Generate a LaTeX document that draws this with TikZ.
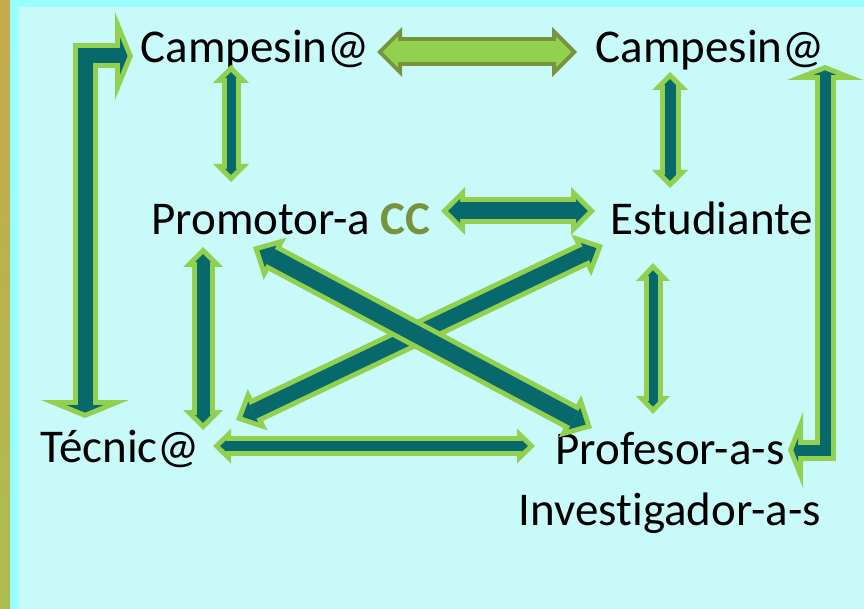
\documentclass[tikz,border=0pt]{standalone}
\usepackage{fontspec}
\setmainfont{Carlito}[Ligatures=NoCommon]
\usetikzlibrary{arrows.meta, calc}
\definecolor{dteal}{HTML}{07696B}
\definecolor{lgreen}{HTML}{92D050}
\definecolor{olivegr}{HTML}{77933C}
\definecolor{bgcyan}{HTML}{C9FAFA}
\definecolor{edgecyan}{HTML}{99FFFF}
\tikzset{
    lbl/.style={
           font=\fontsize{47}{61}\selectfont,
           inner sep=0pt,
           anchor=base,
           align=center,
           },
}
% block arrow: path, shaft, head width, head length, border, outer colour, inner colour
\newcommand{\blkarrow}[7]{%
  \pgfmathsetmacro{\tipin}{#5/sin(atan(#3/2/#4))}
  \pgfmathsetmacro{\innerlen}{#4-#5-\tipin}
  \pgfmathsetmacro{\innerwid}{#3*\innerlen/#4}
  \pgfmathsetmacro{\innershaft}{#2-2*#5}
  \draw[#6, line width=#2pt, line join=miter,
        {Triangle[width=#3pt,length=#4pt,line width'=0pt]}-{Triangle[width=#3pt,length=#4pt,line width'=0pt]}] #1;
  \draw[#7, line width=\innershaft pt, line join=miter, shorten <=\tipin pt, shorten >=\tipin pt,
        {Triangle[width=\innerwid pt,length=\innerlen pt,line width'=0pt]}-{Triangle[width=\innerwid pt,length=\innerlen pt,line width'=0pt]}] #1;
}

\begin{document}
\begin{tikzpicture}[x=1pt, y=-1pt]
  % background
  \fill[bgcyan] (0,0) rectangle (864,609);
  \fill[edgecyan] (10,0) rectangle (19,609);
  \fill[edgecyan] (10,0) rectangle (864,7);
  \shade[top color={rgb,255:red,198;green,170;blue,80}, bottom color={rgb,255:red,172;green,188;blue,82}] (0,0) rectangle (10,609);
  \useasboundingbox (0,0) rectangle (864,609);

  \node[lbl] (campL) at (255,63)  {Campesin@};
  \node[lbl] (campR) at (710,63)  {Campesin@};
  \node[lbl] (prom)  at (291,235) {Promotor-a \textcolor{olivegr}{\textbf{CC}}};
  \node[lbl] (estu)  at (712,235) {Estudiante};
  \node[lbl] (tecn)  at (120,462) {Técnic@};
  \node[lbl] (prof)  at (670,525) {Profesor-a-s\\Investigador-a-s};

  % arrow ends
  \coordinate (a1) at ($(campL.base)+(122,-11)$);
  \coordinate (a2) at ($(campR.base)+(-133,-11)$);
  \coordinate (b1) at ($(campL.base)+(-24,2)$);
  \coordinate (b2) at ($(prom.base)+(-60,-53)$);
  \coordinate (c1) at ($(campR.base)+(-40,9)$);
  \coordinate (c2) at ($(estu.base)+(-42,-47)$);
  \coordinate (d1) at ($(prom.base)+(150,-24)$);
  \coordinate (d2) at ($(estu.base)+(-117,-24)$);
  \coordinate (e1) at ($(prom.base)+(-88,12)$);
  \coordinate (e2) at ($(tecn.base)+(83,-32)$);
  \coordinate (f1) at ($(estu.base)+(-59,28)$);
  \coordinate (f2) at ($(prof.base)+(-17,-111)$);
  \coordinate (g1) at ($(tecn.base)+(93,-16)$);
  \coordinate (g2) at ($(prof.base)+(-135,-79)$);
  \coordinate (h1) at ($(prom.base)+(-38,12)$);
  \coordinate (h2) at ($(prof.base)+(-78,-97)$);
  \coordinate (i1) at ($(tecn.base)+(116,-42)$);
  \coordinate (i2) at ($(estu.base)+(-109,10)$);
  \coordinate (j1) at ($(campL.base)+(-122,-7)$);
  \coordinate (j2) at ($(tecn.base)+(-35,-44)$);
  \coordinate (k1) at ($(campR.base)+(115,2)$);
  \coordinate (k2) at ($(prof.base)+(118,-75)$);

  \blkarrow{(a1) -- (a2)}{29}{50}{25}{4}{olivegr}{lgreen}
  \foreach \p/\q/\s/\w/\l in {b1/b2/19/36/18, c1/c2/21/36/18, d1/d2/27/48/24,
      e1/e2/23/40/20, f1/f2/19/34/18, g1/g2/20/35/18, i1/i2/25/46/24, h1/h2/27/48/25}
    {\blkarrow{(\p) -- (\q)}{\s}{\w}{\l}{5}{lgreen}{dteal}}
  \blkarrow{(j2) |- (j1)}{25}{88}{18}{5}{lgreen}{dteal}
  \blkarrow{(k1) |- (k2)}{21}{76}{15}{5}{lgreen}{dteal}
\end{tikzpicture}
\end{document}
